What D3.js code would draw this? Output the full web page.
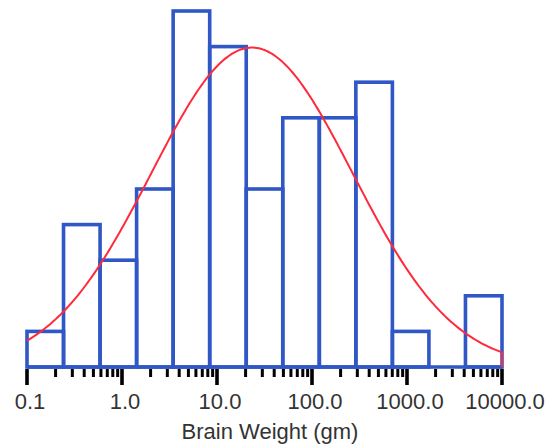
<!DOCTYPE html>
<html>
<head>
<meta charset="utf-8">
<script src="https://cdn.jsdelivr.net/npm/d3@7"></script>
<style>
  html, body { margin: 0; padding: 0; background: #fff; }
  svg { display: block; }
</style>
</head>
<body>
<svg id="chart" width="551" height="446"></svg>
<script>
// ---- data ----
const binEdges = [0.1, 0.2424, 0.5878, 1.425, 3.455, 8.377, 20.31, 49.24, 119.4, 289.4, 701.8, 1701, 4125, 10000];
const binCounts = [1, 4, 3, 5, 10, 9, 5, 7, 7, 8, 1, 0, 2];
const tickValues = [0.1, 1, 10, 100, 1000, 10000];
const tickLabels = ["0.1", "1.0", "10.0", "100.0", "1000.0", "10000.0"];
const xTitle = "Brain Weight (gm)";
// fitted normal curve (on log10 scale)
const fitMean = 1.368;   // log10 grams
const fitSd = 1.06;

// ---- layout ----
const svg = d3.select("#chart");
const x = d3.scaleLog().domain([0.1, 10000]).range([27, 502]);
const y = d3.scaleLinear().domain([0, 10]).range([367, 11]);
const blue = "#2f57c6";
const red = "#ff2a3c";

const bins = binCounts.map((c, i) => ({ x0: binEdges[i], x1: binEdges[i + 1], count: c }));

// bars
svg.append("g").selectAll("rect")
  .data(bins.filter(d => d.count > 0))
  .join("rect")
  .attr("x", d => x(d.x0))
  .attr("y", d => y(d.count))
  .attr("width", d => x(d.x1) - x(d.x0))
  .attr("height", d => y(0) - y(d.count))
  .attr("fill", "none")
  .attr("stroke", blue)
  .attr("stroke-width", 3.6);

// baseline
svg.append("line")
  .attr("x1", x(0.1)).attr("x2", x(10000))
  .attr("y1", y(0)).attr("y2", y(0))
  .attr("stroke", blue).attr("stroke-width", 3.6);

// normal fit curve
const n = d3.sum(binCounts);
const logW = Math.log10(binEdges[1]) - Math.log10(binEdges[0]);
const dens = lx => n * logW / (fitSd * Math.sqrt(2 * Math.PI)) * Math.exp(-((lx - fitMean) ** 2) / (2 * fitSd * fitSd));
const pts = d3.range(-1, 4.0001, 0.02).map(lx => [x(Math.pow(10, lx)), y(dens(lx))]);
pts.push([x(10000), y(0)]);
svg.append("path")
  .attr("d", d3.line()(pts))
  .attr("fill", "none")
  .attr("stroke", red)
  .attr("stroke-width", 2);

// axis ticks
const minor = [];
for (let e = -1; e < 4; e++) for (let k = 2; k <= 9; k++) minor.push(k * Math.pow(10, e));
const tg = svg.append("g");
tg.selectAll("line.minor").data(minor).join("line")
  .attr("class", "minor")
  .attr("x1", d => x(d)).attr("x2", d => x(d))
  .attr("y1", 369).attr("y2", 377)
  .attr("stroke", "#000").attr("stroke-width", 3);
tg.selectAll("line.major").data(tickValues).join("line")
  .attr("class", "major")
  .attr("x1", d => x(d)).attr("x2", d => x(d))
  .attr("y1", 369).attr("y2", 385)
  .attr("stroke", "#000").attr("stroke-width", 3.6);

tg.selectAll("text").data(tickValues).join("text")
  .attr("x", d => x(d) + 3)
  .attr("y", 409)
  .attr("text-anchor", "middle")
  .attr("font-family", "'Liberation Sans', Arial, sans-serif")
  .attr("font-size", 22)
  .attr("fill", "#333")
  .text((d, i) => tickLabels[i]);

svg.append("text")
  .attr("x", 270).attr("y", 439)
  .attr("text-anchor", "middle")
  .attr("font-family", "'Liberation Sans', Arial, sans-serif")
  .attr("font-size", 22)
  .attr("fill", "#333")
  .text(xTitle);
</script>
</body>
</html>
